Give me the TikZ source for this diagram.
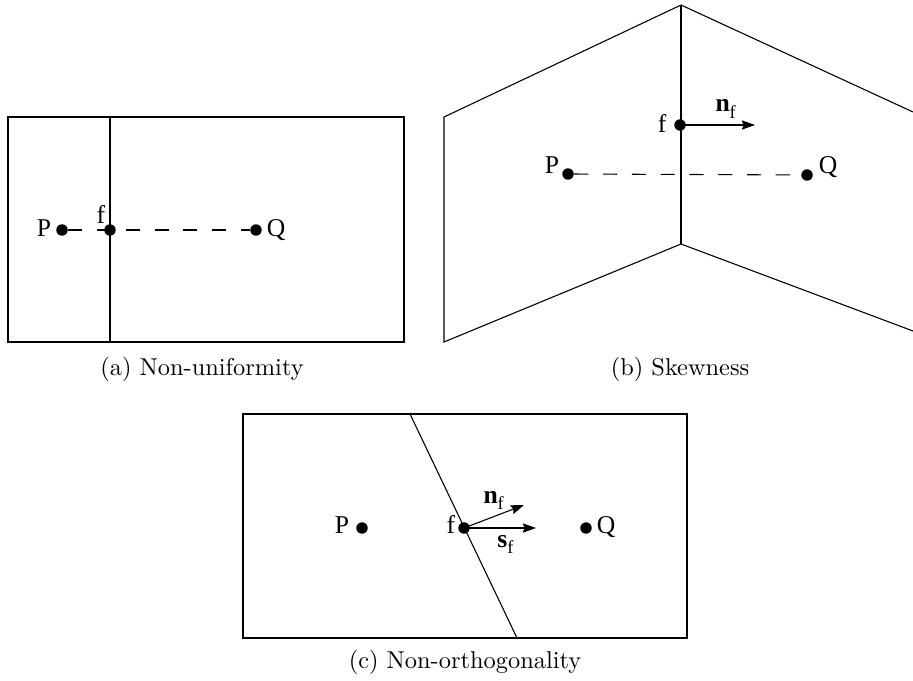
\documentclass[tikz,border=0pt]{standalone}
\usepackage{fontspec}
\newfontfamily\tms{Liberation Serif}
\usetikzlibrary{arrows.meta}
\newcommand{\vecsub}[2]{\textbf{#1}\raisebox{-0.55ex}{\fontsize{7.5}{8}\selectfont #2}}
\begin{document}
\begin{tikzpicture}[x=0.41pt,y=-0.41pt,
  edge/.style={line width=0.45pt},
  dot/.style={circle,fill,inner sep=0pt,minimum size=4.7pt},
  lbl/.style={font=\tms\fontsize{10.5}{12}\selectfont,inner sep=0pt,anchor=base},
  vlbl/.style={font=\tms\fontsize{10.5}{12}\selectfont,inner sep=0pt,anchor=base west},
  captext/.style={inner sep=0pt},
  dsh/.style={line width=0.45pt,dash pattern=on 5.8pt off 6pt},
  vec/.style={line width=0.45pt,-{Stealth[length=5.4pt,width=3.8pt,inset=0.7pt]}}]
\useasboundingbox (0,0) rectangle (913,680);

% ---------- (a) Non-uniformity ----------
\coordinate (aTL) at (8,117);
\coordinate (aBR) at (404,342);
\coordinate (aFT) at (110,117);
\coordinate (aFB) at (110,342);
\draw[edge] (aTL) rectangle (aBR);
\draw[edge] (aFT) -- (aFB);
\node[dot] (aP) at (62,230) {};
\node[dot] (aQ) at (256,230) {};
\draw[dsh] (aP) -- (aQ);
\node[dot] (af) at (110,230) {};
\node[lbl] (aPl) at (44,236) {P};
\node[lbl] (afl) at (101,223) {f};
\node[lbl] (aQl) at (276,236) {Q};
\node[captext] (acap) at (202,369) {(a) Non-uniformity};

% ---------- (b) Skewness ----------
\coordinate (bT) at (681,5);
\coordinate (bB) at (681,244);
\coordinate (bLT) at (444,117);
\coordinate (bLB) at (444,342);
\coordinate (bRT) at (913,112);
\coordinate (bRB) at (913,331);
\draw[edge] (bRT) -- (bT) -- (bLT) -- (bLB) -- (bB) -- (bRB);
\draw[edge] (bT) -- (bB);
\node[dot] (bP) at (568,174) {};
\node[dot] (bQ) at (807,175) {};
\draw[dsh] (bP) -- (bQ);
\node[dot] (bf) at (680,125) {};
\coordinate (bn) at (755,125);
\draw[vec] (bf.center) -- (bn);
\node[lbl] (bPl) at (552,173) {P};
\node[lbl] (bQl) at (828,173) {Q};
\node[lbl] (bfl) at (662,133) {f};
\node[vlbl] (bnl) at (715,112) {\vecsub{n}{f}};
\node[captext] (bcap) at (680,369) {(b) Skewness};

% ---------- (c) Non-orthogonality ----------
\coordinate (cTL) at (243,414);
\coordinate (cBR) at (687,638);
\coordinate (cFT) at (410,414);
\coordinate (cFB) at (517,638);
\draw[edge] (cTL) rectangle (cBR);
\draw[edge] (cFT) -- (cFB);
\node[dot] (cP) at (362,528) {};
\node[dot] (cQ) at (586,528) {};
\node[dot] (cf) at (464,528) {};
\coordinate (cs) at (536,528);
\coordinate (cn) at (524,505);
\draw[vec] (cf.center) -- (cs);
\draw[vec] (cf.center) -- (cn);
\node[lbl] (cPl) at (342,533) {P};
\node[lbl] (cQl) at (606,533) {Q};
\node[lbl] (cfl) at (451,533) {f};
\node[vlbl] (cnl) at (483,503) {\vecsub{n}{f}};
\node[vlbl] (csl) at (497,547) {\vecsub{s}{f}};
\node[captext] (ccap) at (465,662) {(c) Non-orthogonality};
\end{tikzpicture}
\end{document}
